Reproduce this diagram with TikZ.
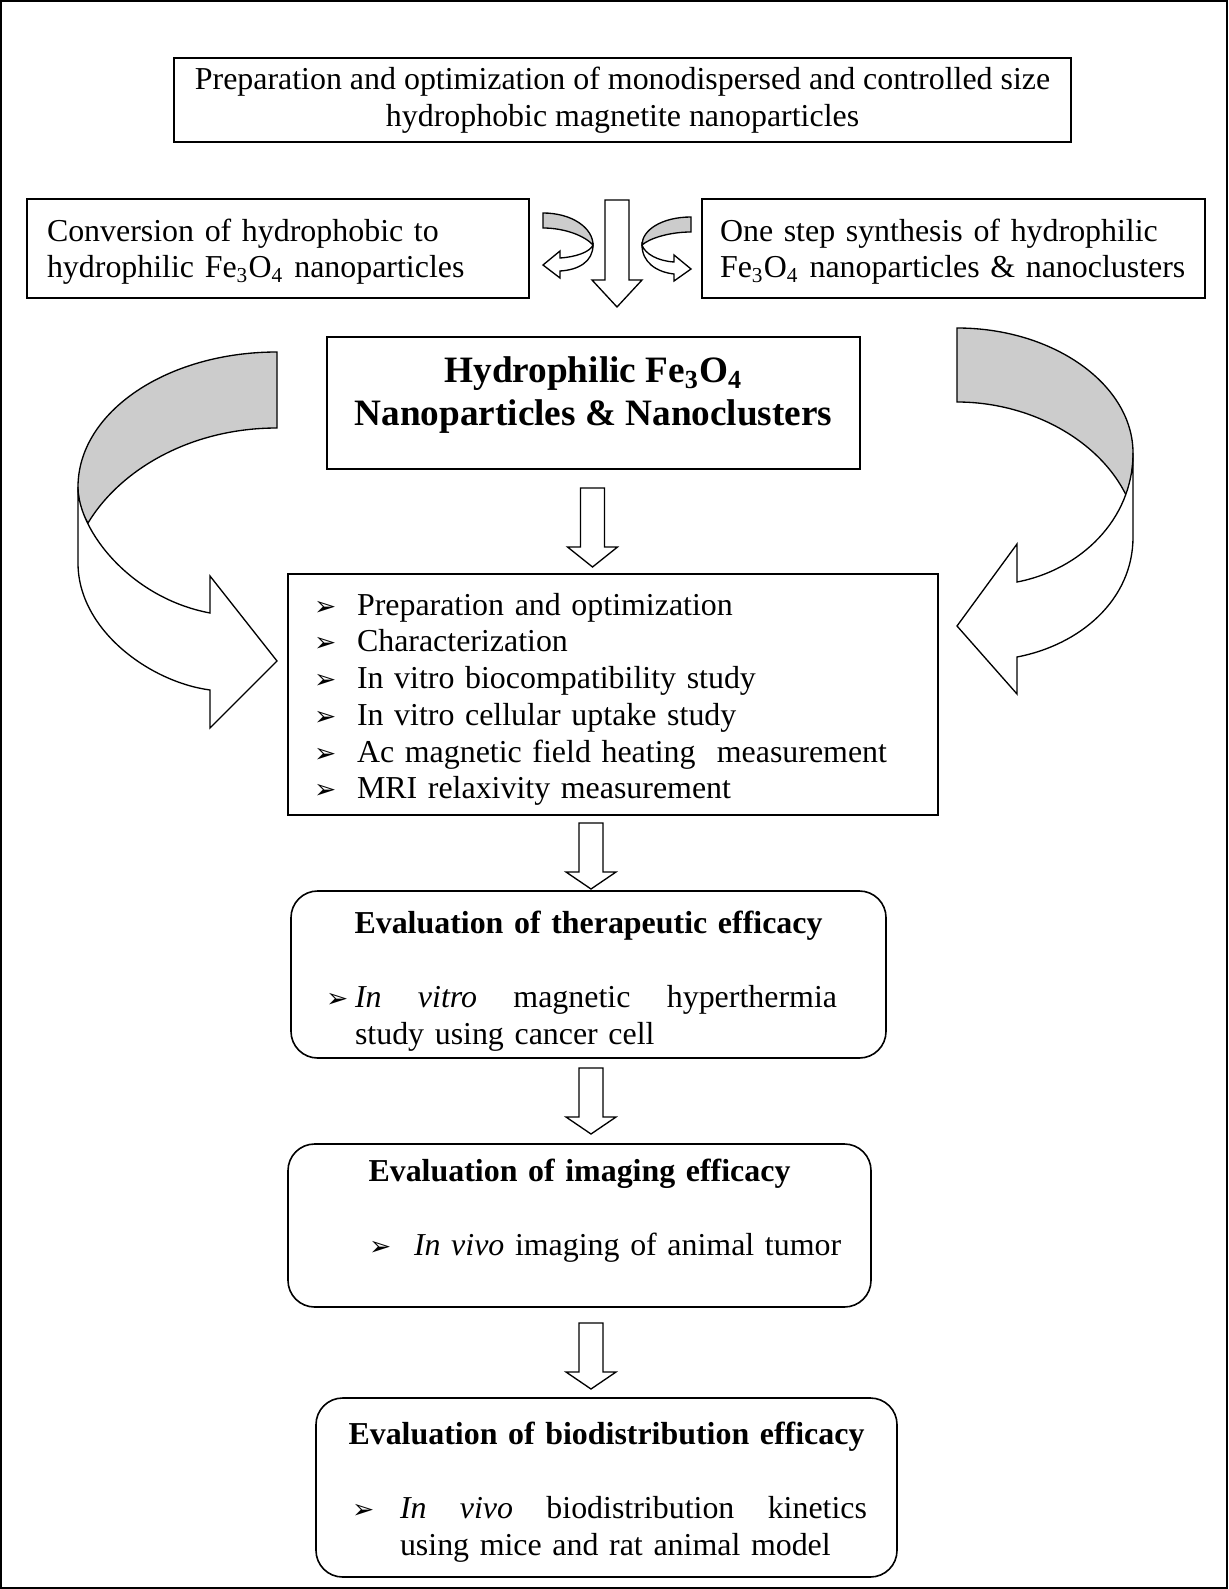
\documentclass[tikz,border=0pt]{standalone}
\usepackage{fontspec}
\setmainfont{Liberation Serif}
\newfontfamily\symfont{DejaVu Sans}
\usetikzlibrary{positioning, calc}

\newdimen\px \px=0.376pt
\newcommand{\bul}[1][43]{\makebox[#1\px][l]{\symfont\fontsize{10}{10}\selectfont ➢}}
\newcommand{\lift}[1]{\rule{0pt}{#1}}

\tikzset{
    pics/downarrow/.style n args={2}{code={
        \draw[blockarrow] (-12,0) -- (12,0) -- (12,#1-#2) -- (25,#1-#2) -- (0,#1)
            -- (-25,#1-#2) -- (-12,#1-#2) -- cycle;
    }},
}

\begin{document}
\begin{tikzpicture}[
    x=0.376pt, y=-0.376pt,
    box/.style={rectangle, draw, line width=0.6pt, inner sep=0pt, font=\fontsize{12}{13.8}\selectfont},
    roundbox/.style={box, rounded corners=10pt, align=left},
    blockarrow/.style={draw, line width=0.5pt, fill=white, line join=miter},
    backside/.style={draw, line width=0.5pt, fill=black!20},
]
\useasboundingbox (0,0) rectangle (1228,1589);
\draw[line width=0.8pt] (1,1) rectangle (1227,1588);

%% NODES
    % starting material
    \node[box, minimum width=897\px, minimum height=84\px, align=center] (prep) at (622.5,100)
        {Preparation and optimization of monodispersed and controlled size\\hydrophobic magnetite nanoparticles};

    % two routes
    \node[box, minimum width=502\px, minimum height=99\px, text width=462\px, inner xsep=20\px, align=left] (convert) at (278,248.5)
        {\lift{10.8pt}Conversion of hydrophobic to\\hydrophilic Fe\textsubscript{3}O\textsubscript{4} nanoparticles};
    \node[box, minimum width=503\px, minimum height=99\px, text width=467\px, inner xsep=18\px, align=left] (onestep) at (953.5,248.5)
        {\lift{10.8pt}One step synthesis of hydrophilic\\Fe\textsubscript{3}O\textsubscript{4} nanoparticles \& nanoclusters};

    % product
    \node[box, minimum width=533\px, minimum height=132\px, align=center, text depth=9pt, font=\fontsize{14}{16}\selectfont\bfseries] (hydro) at (593.5,403)
        {Hydrophilic Fe\textsubscript{3}O\textsubscript{4}\\Nanoparticles \& Nanoclusters};

    % studies
    \node[box, minimum width=650\px, minimum height=241\px, text width=598\px, inner xsep=26\px, align=left] (tasks) at (613,694.5)
        {\lift{12pt}\bul Preparation and optimization\\
         \bul Characterization\\
         \bul In vitro biocompatibility study\\
         \bul In vitro cellular uptake study\\
         \bul Ac magnetic field heating~ measurement\\
         \bul MRI relaxivity measurement};

    % evaluations
    \node[roundbox, minimum width=595\px, minimum height=167\px, text width=595\px] (thera) at (588.5,974.5)
        {{\centering\lift{13.5pt}\bfseries Evaluation of therapeutic efficacy\par}\vspace{13.8pt}
         \hspace*{35\px}\bul[29]\parbox[t]{482\px}{\makebox[482\px][s]{\textit{In}\hfill\textit{vitro}\hfill magnetic\hfill hyperthermia}\\study using cancer cell}};
    \node[roundbox, minimum width=583\px, minimum height=163\px, text width=583\px] (imaging) at (579.5,1225.5)
        {{\centering\bfseries Evaluation of imaging efficacy\par}\vspace{13.8pt}
         \hspace*{81\px}\bul[45]\textit{In vivo} imaging of animal tumor\par\mbox{}};
    \node[roundbox, minimum width=581\px, minimum height=179\px, text width=581\px] (biodist) at (606.5,1487.5)
        {{\centering\lift{12pt}\bfseries Evaluation of biodistribution efficacy\par}\vspace{13.8pt}
         \hspace*{36\px}\bul[48]\parbox[t]{467\px}{\makebox[467\px][s]{\textit{In}\hfill\textit{vivo}\hfill biodistribution\hfill kinetics}\\using mice and rat animal model}};

%% ARROWS
    % straight block arrows
    \pic at (617,200) {downarrow={107}{27}};
    \pic at (592.5,488) {downarrow={79}{20}};
    \pic at (591,823) {downarrow={66}{17}};
    \pic at (591,1068) {downarrow={66}{17}};
    \pic at (591,1323) {downarrow={66}{17}};

    % small u-turn arrows beside the top arrow
    \draw[backside] (543,213) .. controls (572,213) and (593,228) .. (593,245)
        .. controls (585,236) and (565,228) .. (543,228) -- cycle;
    \draw[blockarrow] (593,245) .. controls (593,262) and (578,270) .. (560,271) -- (560,278) -- (543,265)
        -- (560,251) -- (560,258) .. controls (576,257) and (590,252) .. (593,245) -- cycle;
    \draw[backside] (691,217) .. controls (662,217) and (642,230) .. (642,245)
        .. controls (650,238) and (670,232) .. (691,232) -- cycle;
    \draw[blockarrow] (642,245) .. controls (642,262) and (656,272) .. (674,274) -- (674,281) -- (691,269)
        -- (674,255) -- (674,262) .. controls (658,261) and (645,254) .. (642,245) -- cycle;

    % big curved arrow, left
    \draw[backside] (277,352) .. controls (167,352) and (78,412) .. (78,487)
        .. controls (78,503) and (82,514) .. (88,523)
        .. controls (120,470) and (190,428) .. (277,428) -- cycle;
    \draw[blockarrow] (78,487) -- (78,563) .. controls (78,630) and (150,682) .. (210,690)
        -- (210,728) -- (277,661) -- (210,576) -- (210,613)
        .. controls (130,598) and (78,530) .. (78,487) -- cycle;

    % big curved arrow, right
    \draw[backside] (957,328) .. controls (1054,328) and (1133,385) .. (1133,453)
        .. controls (1133,470) and (1131,485) .. (1127,497)
        .. controls (1100,440) and (1030,402) .. (957,402) -- cycle;
    \draw[blockarrow] (1133,453) -- (1133,537) .. controls (1133,600) and (1080,645) .. (1017,657)
        -- (1017,694) -- (957,626) -- (1017,544) -- (1017,582)
        .. controls (1080,570) and (1133,520) .. (1133,453) -- cycle;

\end{tikzpicture}
\end{document}
